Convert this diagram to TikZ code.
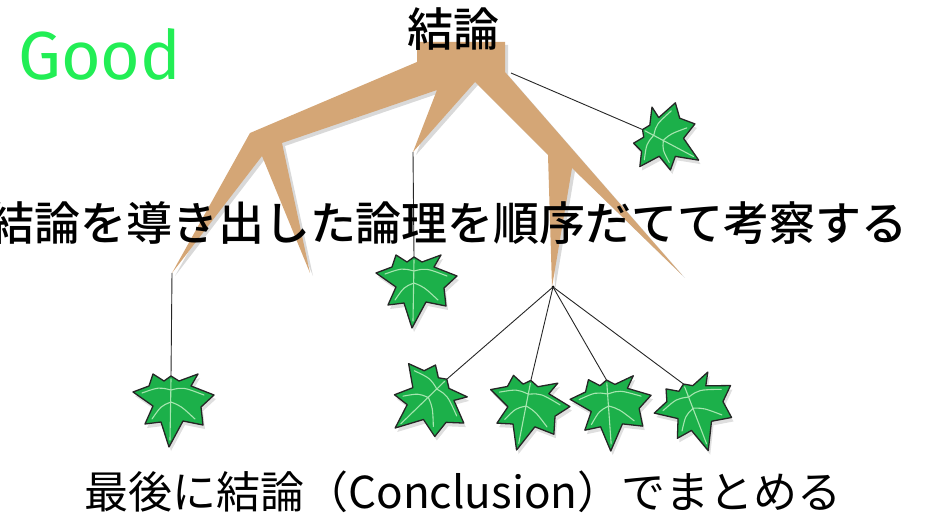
\documentclass[tikz,border=0pt]{standalone}
\usepackage{fontspec}
\usepackage{xcolor}
\setmainfont{Noto Sans CJK JP}
\newfontfamily\jpmedium{Noto Sans CJK JP Medium}
\newfontfamily\goodfont{Fira Sans}
\usetikzlibrary{shadows}

\definecolor{bark}{RGB}{212,166,118}
\definecolor{leafgreen}{RGB}{28,176,74}
\definecolor{veingreen}{RGB}{165,230,175}
\definecolor{goodgreen}{RGB}{34,238,85}

\tikzset{
  string/.style={draw=black!85,line width=0.9pt},
  jp/.style={font=\fontsize{#1}{#1}\selectfont,inner sep=0pt,anchor=base},
  jpbold/.style={font=\jpmedium\fontsize{#1}{#1}\selectfont,inner sep=0pt,anchor=base},
  leaf/.pic={
    \path[fill=leafgreen,draw=black!85,line width=1.3pt,line join=round,
      drop shadow={shadow xshift=2pt,shadow yshift=-4pt,opacity=.25}]
      (0,-28) -- (8,-23) -- (27,-30) -- (20,-18) -- (43,-9) -- (30,3)
      -- (32,21) -- (12,17) -- (-2,43) -- (-10,18) -- (-26,20) -- (-18,2)
      -- (-38,-12) -- (-22,-18) -- (-18,-30) -- (-7,-23) -- cycle;
    \draw[veingreen,line width=1.1pt,line cap=round]
      (0,-25) -- (-1,36)
      (0,-14) .. controls (12,-17) .. (33,-9)
      (0,-14) .. controls (-12,-17) .. (-29,-11)
      (0,-2) .. controls (10,2) .. (24,15)
      (0,-2) .. controls (-10,2) .. (-19,15);
    \coordinate (-stem) at (0,-28);
  }
}

\begin{document}
\begin{tikzpicture}[x=1pt,y=-1pt]
        \useasboundingbox (0,0) rectangle (926,518);
        \clip (0,0) rectangle (926,518);
        % the tree
        \path[fill=bark,drop shadow={shadow xshift=3pt,shadow yshift=-3pt,opacity=.3}]
          (417,42) -- (417,62) -- (250,133) -- (172,273) -- (262,156) -- (310,273)
          -- (282,143) -- (437,90) -- (413,152) -- (475,82) -- (548,155) -- (552,287)
          -- (572,168) -- (682,275) -- (505,72) -- (505,42) -- cycle;
        \coordinate (trunk_r) at (511,73);
        \coordinate (tip_l) at (172,273);
        \coordinate (tip_m) at (413,152);
        \coordinate (tip_c) at (553,287);
        \fill[black] (tip_c) circle (1.5);

        % leaves
        \pic[rotate=63,scale=.9] (leaf_r) at (665,141) {leaf};
        \pic (leaf_m) at (414,285) {leaf};
        \pic (leaf_l) at (171,404) {leaf};
        \pic[rotate=-45] (leaf_a) at (427,399) {leaf};
        \pic[rotate=-10] (leaf_b) at (526,408) {leaf};
        \pic[rotate=5] (leaf_c) at (609,408) {leaf};
        \pic[rotate=22] (leaf_d) at (694,410) {leaf};

        % strings
        \draw[string] (trunk_r) -- (leaf_r-stem);
        \draw[string] (tip_m) -- (leaf_m-stem);
        \draw[string] (tip_l) -- (leaf_l-stem);
        \foreach \n in {a,b,c,d}
          \draw[string] (tip_c) -- (leaf_\n-stem);

        % texts
        \node[font=\goodfont\fontsize{68}{68}\selectfont,text=goodgreen,inner sep=0pt,anchor=base west]
          (good) at (18,80) {Good};
        \node[jpbold=46] (top) at (453,47) {結論};
        \node[jpbold=46] (middle) at (448,241) {結論を導き出した論理を順序だてて考察する};
        \node[jp=44] (bottom) at (463,508) {最後に結論（Conclusion）でまとめる};
\end{tikzpicture}
\end{document}
